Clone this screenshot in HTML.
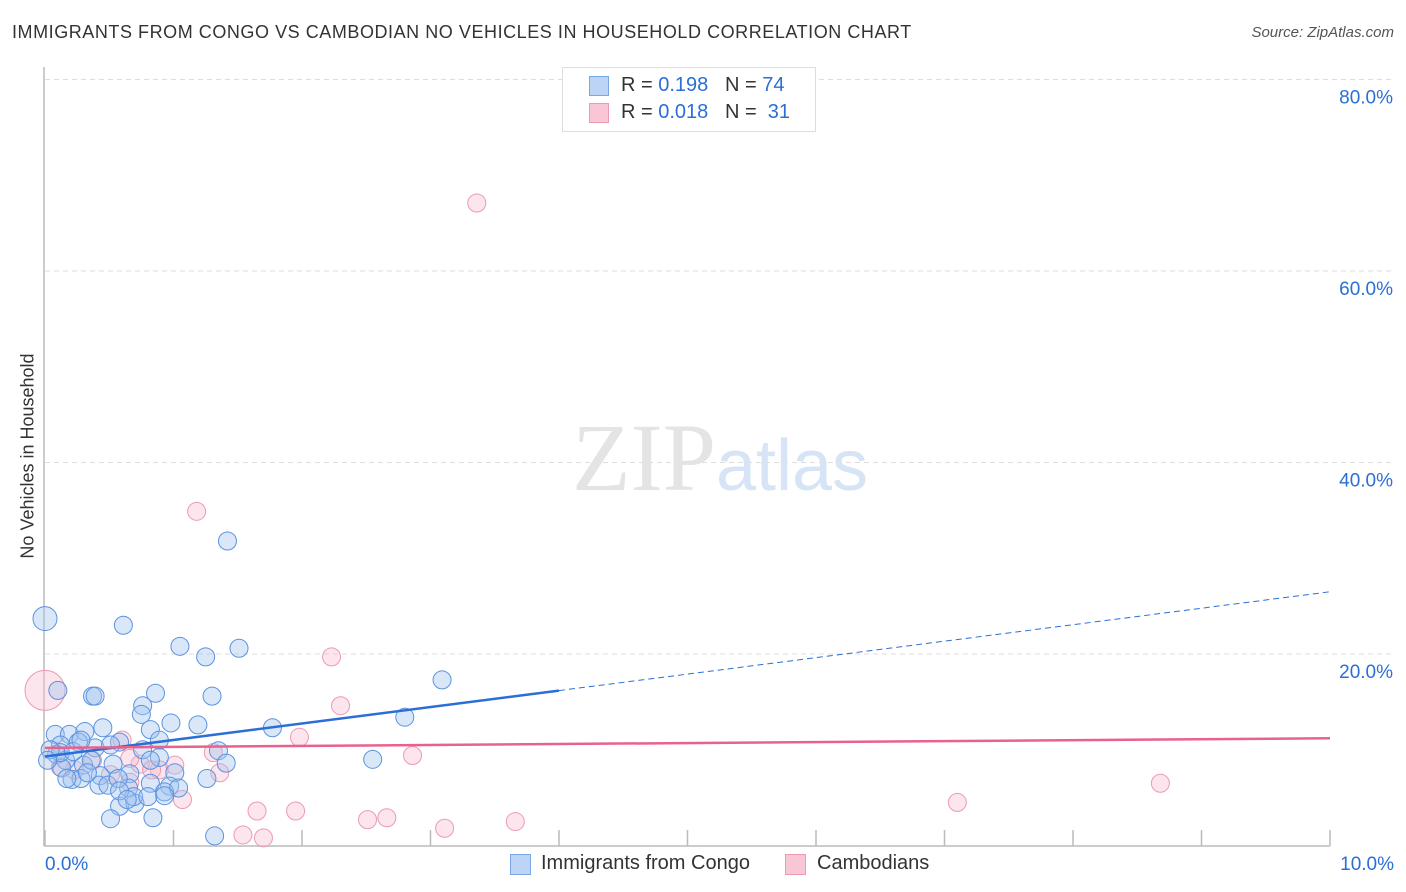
<!DOCTYPE html>
<html><head><meta charset="utf-8"><style>
body{margin:0;background:#fff;font-family:"Liberation Sans",sans-serif;}
#wrap{position:relative;width:1406px;height:892px;overflow:hidden;}
.t{position:absolute;white-space:nowrap;}
</style></head><body>
<div id="wrap">
<div class="t" style="left:12px;top:22px;font-size:18px;letter-spacing:0.55px;color:#333;">IMMIGRANTS FROM CONGO VS CAMBODIAN NO VEHICLES IN HOUSEHOLD CORRELATION CHART</div>
<div class="t" style="right:12px;top:24px;font-size:15px;color:#555;font-style:italic;">Source: ZipAtlas.com</div>
<div class="t" style="left:28px;top:456px;font-size:18px;color:#333;transform:translate(-50%,-50%) rotate(-90deg);">No Vehicles in Household</div>
<svg id="svg" width="1406" height="892" style="position:absolute;left:0;top:0"></svg>
<div style="position:absolute;left:562px;top:67px;width:252px;height:63px;border:1px solid #ddd;background:#fff;">
 <div style="position:absolute;left:26px;top:8px;width:18px;height:18px;background:#bcd4f5;border:1px solid #7aa6e6;"></div>
 <div class="t" style="left:58px;top:6px;font-size:20px;color:#333;">R = <span style="color:#2b6fd6">0.198</span>&nbsp;&nbsp;&nbsp;N = <span style="color:#2b6fd6">74</span></div>
 <div style="position:absolute;left:26px;top:35px;width:18px;height:18px;background:#f8c6d4;border:1px solid #ec9ab2;"></div>
 <div class="t" style="left:58px;top:33px;font-size:20px;color:#333;">R = <span style="color:#2b6fd6">0.018</span>&nbsp;&nbsp;&nbsp;N = &nbsp;<span style="color:#2b6fd6">31</span></div>
</div>
<div style="position:absolute;left:510px;top:854px;width:19px;height:19px;background:#bcd4f5;border:1px solid #7aa6e6;"></div>
<div class="t" style="left:541px;top:852px;font-size:20px;color:#333;">Immigrants from Congo</div>
<div style="position:absolute;left:785px;top:854px;width:19px;height:19px;background:#f8c6d4;border:1px solid #ec9ab2;"></div>
<div class="t" style="left:817px;top:852px;font-size:20px;color:#333;">Cambodians</div>
</div>
<script>
const blueX=[0,.61,1.05,1.25,1.51,1.42,3.09,.10,.37,.39,.86,.76,.75,.98,1.19,1.77,1.30,2.80,2.55,.08,.19,.31,.45,.12,.26,.39,.58,.82,.89,.09,.16,.30,.53,.76,.89,1.35,.13,.21,.43,.66,1.01,1.26,.42,.49,.65,.82,.97,.58,.70,.69,.93,1.04,.51,.84,1.32,.28,.12,.04,.02,1.41,.36,.57,.33,.17,.93,.58,.80,.22,.28,.51,.64,.82];
const blueY=[23.7,23.0,20.8,19.7,20.6,31.8,17.3,16.2,15.6,15.6,15.9,14.6,13.7,12.8,12.6,12.3,15.6,13.4,9.0,11.6,11.6,11.9,12.3,10.5,10.8,10.2,10.8,12.1,11.0,9.5,8.9,8.4,8.5,10.0,9.2,9.9,8.1,6.9,7.3,7.5,7.6,7.0,6.3,6.3,6.0,6.5,6.2,4.1,4.4,5.1,5.6,6.0,2.8,2.9,1.0,7.0,9.7,10.0,8.9,8.6,8.9,7.0,7.6,7.0,5.2,5.7,5.1,9.8,11.0,10.5,4.8,8.9];
const pinkX=[3.36,1.18,2.23,2.30,0,.60,1.98,1.31,2.86,1.36,1.07,1.65,1.95,2.51,2.66,3.11,3.66,1.54,1.70,7.10,8.68,.12,.23,.37,.74,.89,1.01,.51,.66,.83,.66];
const pinkY=[67.1,34.9,19.7,14.6,16.2,11.0,11.3,9.7,9.4,7.6,4.8,3.6,3.6,2.7,2.9,1.8,2.5,1.1,0.8,4.5,6.5,8.2,7.9,8.9,8.5,7.9,8.4,7.4,6.6,7.9,9.1];
const yTicks=[20,40,60,80];
const xTicks=[0,1,2,3,4,5,6,7,8,9,10];
const blueTrend=[9.3,26.5];
const pinkTrend=[10.2,11.2];
const sx=v=>45+v*128.5, sy=v=>845.5-v*9.575;
const svg=document.getElementById('svg');
function mk(tag,attrs){const e=document.createElementNS('http://www.w3.org/2000/svg',tag);for(const k in attrs)e.setAttribute(k,attrs[k]);svg.appendChild(e);return e;}
yTicks.forEach(v=>{
 const l=mk('line',{x1:45,x2:1394,y1:sy(v),y2:sy(v),stroke:'#ddd','stroke-dasharray':'5,4'});
 
 
 const t=mk('text',{x:1393,y:sy(v)+24,'text-anchor':'end','font-size':19,fill:'#2b6fd6','font-family':'Liberation Sans'});
 t.textContent=v.toFixed(1)+'%';
 
 
});
const ax=mk('line',{x1:44,x2:44,y1:67,y2:846,stroke:'#bbb','stroke-width':1.5});


const bx=mk('line',{x1:44,x2:1330,y1:846,y2:846,stroke:'#bbb','stroke-width':1.5});


xTicks.forEach(v=>{
 const l=mk('line',{x1:sx(v),x2:sx(v),y1:830,y2:846,stroke:'#bbb','stroke-width':1.5});
 
 
});
[[0,'0.0%',45,'start'],[10,'10.0%',1394,'end']].forEach(d=>{
 const t=mk('text',{x:d[2],y:870,'text-anchor':d[3],'font-size':19,fill:'#2b6fd6','font-family':'Liberation Sans'});
 t.textContent=d[1];
 
 
});
const wm=mk('text',{x:720,y:490,'text-anchor':'middle','font-size':96,fill:'#e4e4e4','font-family':'Liberation Serif'});
wm.innerHTML='ZIP<tspan fill="#d6e4f6" font-family="Liberation Sans" font-size="72">atlas</tspan>';


pinkX.forEach((x,i)=>{
 const c=mk('circle',{cx:sx(x),cy:sy(pinkY[i]),r:x===0?20:9,fill:'rgba(248,190,208,0.4)',stroke:'#ec9ab2','stroke-width':1});
 
 
});
blueX.forEach((x,i)=>{
 const c=mk('circle',{cx:sx(x),cy:sy(blueY[i]),r:x===0?12:9,fill:'rgba(160,195,240,0.4)',stroke:'#5b93e0','stroke-width':1});
 
 
});
const bf=v=>blueTrend[0]+(blueTrend[1]-blueTrend[0])*v/10;
const b1=mk('line',{x1:sx(0),y1:sy(bf(0)),x2:sx(4),y2:sy(bf(4)),stroke:'#2b6fd6','stroke-width':2.5});


const b2=mk('line',{x1:sx(4),y1:sy(bf(4)),x2:sx(10),y2:sy(bf(10)),stroke:'#2b6fd6','stroke-width':1,'stroke-dasharray':'6,4'});


const p1=mk('line',{x1:sx(0),y1:sy(pinkTrend[0]),x2:sx(10),y2:sy(pinkTrend[1]),stroke:'#e8628e','stroke-width':2.5});


</script>
</body></html>
